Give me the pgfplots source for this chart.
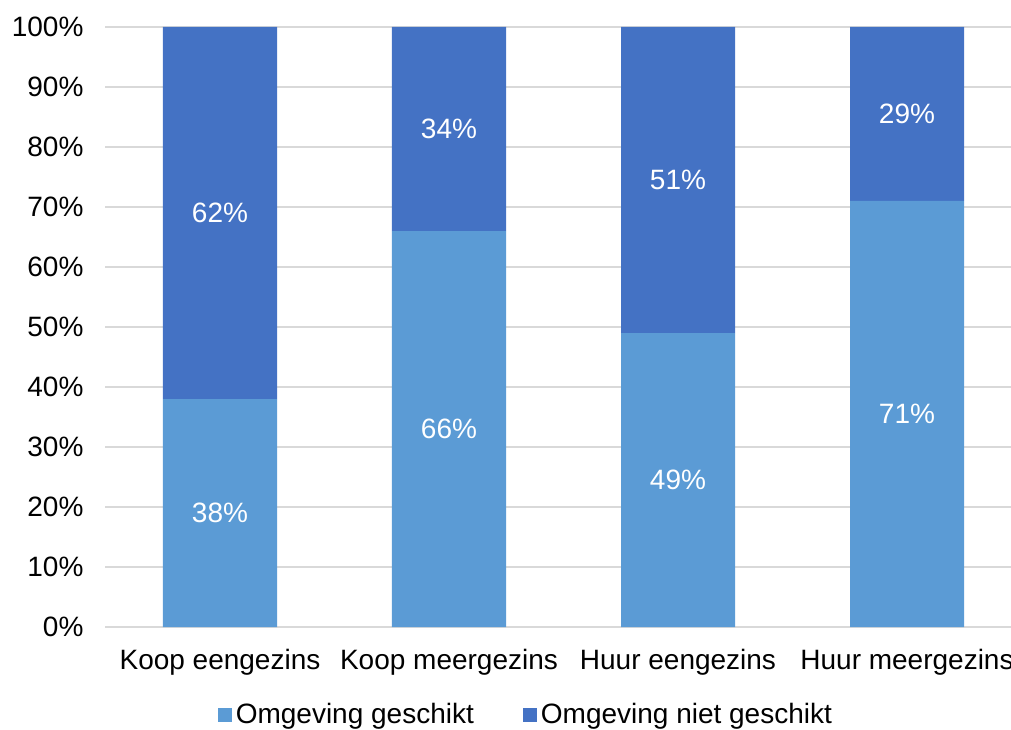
\documentclass[border=0pt]{standalone}
\usepackage{pgfplots}
\pgfplotsset{compat=1.18}
\usepackage{fontspec}
\setmainfont{Liberation Sans}
\definecolor{lightb}{HTML}{5B9BD5}
\definecolor{darkb}{HTML}{4472C4}
\definecolor{gridc}{HTML}{D9D9D9}
\newcommand{\chartfont}{\fontsize{14}{16.5}\selectfont}
\begin{document}
\begin{tikzpicture}
\begin{axis}[
  name=ax,
  scale only axis,
  width=458pt, height=300pt,
  ybar stacked,
  bar width=57pt,
  xmin=-0.5, xmax=3.5,
  ymin=0, ymax=100,
  xtick={0,1,2,3},
  xticklabels={Koop eengezins, Koop meergezins, Huur eengezins, Huur meergezins},
  ytick={0,10,...,100},
  yticklabel={\pgfmathprintnumber{\tick}\%},
  /pgf/number format/assume math mode=true,
  ymajorgrids,
  grid style={gridc, line width=0.75pt},
  axis line style={draw=none},
  tick style={draw=none},
  tick label style={font=\chartfont},
  yticklabel style={xshift=-7.5pt},
  xticklabel style={yshift=-7.5pt},
  legend style={at={(0.46,-0.147)}, anchor=center, draw=none, fill=none,
    legend columns=2, font=\chartfont,
    /tikz/every even column/.append style={column sep=22.5pt}},
  legend image code/.code={\fill[#1,draw=none] (0pt,-3.5pt) rectangle (7pt,3.5pt);},
  nodes near coords={\pgfmathprintnumber{\pgfplotspointmeta}\%},
  nodes near coords align={center},
  every node near coord/.append style={font=\chartfont, text=white, anchor=center},
]
\addplot[fill=lightb, draw=none] coordinates {(0,38) (1,66) (2,49) (3,71)};
\addplot[fill=darkb, draw=none] coordinates {(0,62) (1,34) (2,51) (3,29)};
\legend{Omgeving geschikt, Omgeving niet geschikt}
\end{axis}
\pgfresetboundingbox
\path[use as bounding box] ([shift={(-52.75pt,-51pt)}]ax.south west) rectangle ([shift={(452.75pt,13.5pt)}]ax.north west);
\end{tikzpicture}
\end{document}
